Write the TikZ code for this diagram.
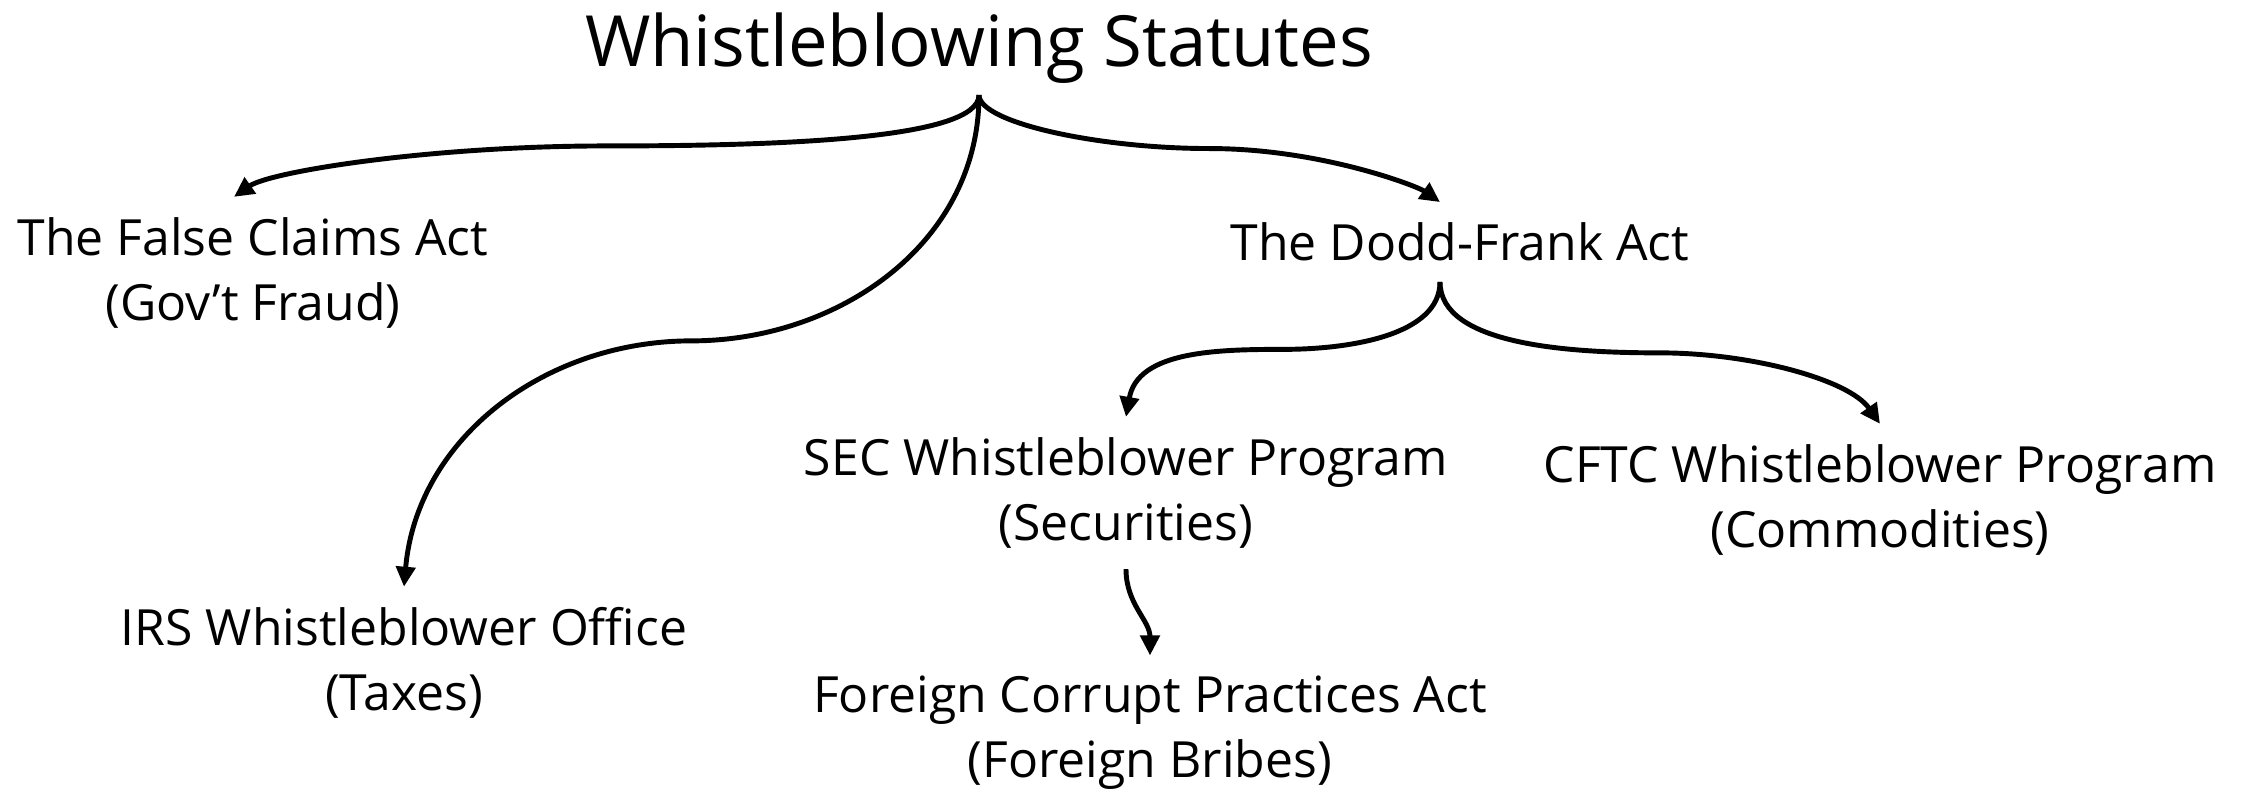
\documentclass[tikz,border=0pt]{standalone}
\usepackage{fontspec}
\setmainfont{Open Sans}
\usepackage{tikz}
\usetikzlibrary{arrows.meta, positioning, calc}

\tikzset{
  stat/.style={align=center, inner sep=2mm, font=\fontsize{14.2}{18.5}\selectfont},
  conn/.style={line width=1.4pt, -{Triangle[length=2mm, width=1.9mm]}},
  flatin/.style={out looseness=0.3, in looseness=1.2},
  flatout/.style={out looseness=1.2, in looseness=0.3}
}

\begin{document}
\begin{tikzpicture}[x=1mm,y=1mm]
  \path[use as bounding box] (0,0) rectangle (225.4,78.9);
  \node[stat, inner sep=1.1mm, font=\fontsize{20.1}{24}\selectfont] (title) at (97.9,74.1) {Whistleblowing Statutes};
  \node[stat] (fca) at (25.3,51.6) {The False Claims Act\\(Gov't Fraud)};
  \node[stat] (dfa) at (146.0,54.7) {The Dodd-Frank Act};
  \node[stat] (irs) at (40.4,12.6) {IRS Whistleblower Office\\(Taxes)};
  \node[stat] (sec) at (112.6,29.6) {SEC Whistleblower Program\\(Securities)};
  \node[stat] (cftc) at (188.0,28.9) {CFTC Whistleblower Program\\(Commodities)};
  \node[stat] (fcpa) at (115.0,5.6) {Foreign Corrupt Practices Act\\(Foreign Bribes)};

  \coordinate (fcatop) at ([xshift=-1.9mm]fca.north);
  \coordinate (dfatop) at ([xshift=-2mm]dfa.north);
  \coordinate (dfabot) at ([xshift=-2mm]dfa.south);

  % braces from the title
  \draw[conn] (title.south) to[out=-90,in=0,flatin] ($(title.south)!0.5!(fcatop)$) to[out=180,in=35,flatout] (fcatop);
  \draw[conn] (title.south) to[out=-90,in=180,flatin] ($(title.south)!0.5!(dfatop)$) to[out=0,in=145,flatout] (dfatop);
  \draw[conn] (title.south) to[out=-90,in=0] ($(title.south)!0.5!(irs.north)$) to[out=180,in=85] (irs.north);
  % Dodd-Frank
  \draw[conn] (dfabot) to[out=-90,in=0,out looseness=0.8] ($(dfabot)!0.5!(sec.north)$) to[out=180,in=80] (sec.north);
  \draw[conn] (dfabot) to[out=-90,in=180,out looseness=0.7] ($(dfabot)!0.5!(cftc.north)$) to[out=0,in=125,in looseness=0.6] (cftc.north);
  \draw[conn] (sec.south) to[out=-90,in=90] (fcpa.north);
\end{tikzpicture}
\end{document}
